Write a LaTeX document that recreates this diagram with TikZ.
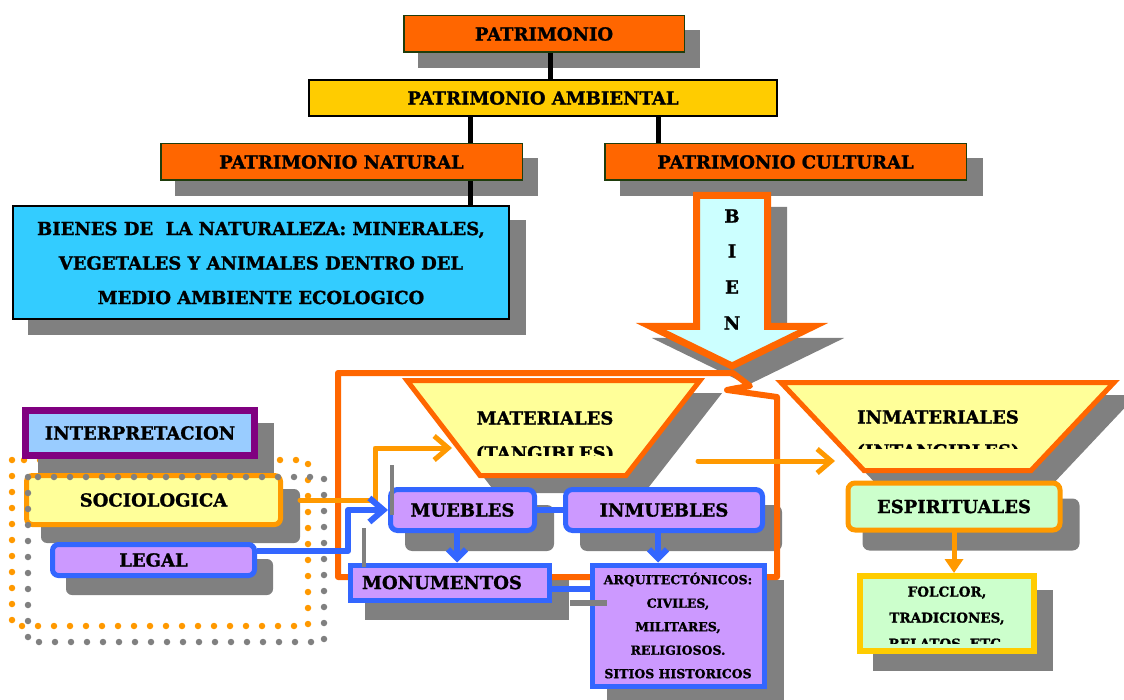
\documentclass[tikz,border=0pt]{standalone}
\usepackage{fontspec}
\setmainfont{DejaVu Serif}[BoldFeatures={FakeBold=1.2}]
\usetikzlibrary{arrows.meta}
\pgfdeclarelayer{bottomlayer}
\pgfdeclarelayer{shadowlayer}
\pgfdeclarelayer{midlayer}
\pgfsetlayers{bottomlayer,shadowlayer,midlayer,main}
\definecolor{cor}{HTML}{FF6600}
\definecolor{cyel}{HTML}{FFCC00}
\definecolor{ccyan}{HTML}{33CCFF}
\definecolor{clcyan}{HTML}{CCFFFF}
\definecolor{clyel}{HTML}{FFFF99}
\definecolor{cor2}{HTML}{FF9900}
\definecolor{cblue}{HTML}{3366FF}
\definecolor{clav}{HTML}{CC99FF}
\definecolor{clblue}{HTML}{99CCFF}
\definecolor{cpurp}{HTML}{800080}
\definecolor{cgreen}{HTML}{CCFFCC}
\definecolor{cdkg}{HTML}{1F3D0C}
\definecolor{shcol}{HTML}{808080}
\newcommand\shd[3][0pt]{\begin{pgfonlayer}{shadowlayer}\fill[shcol,rounded corners=#1]([shift={#3}]#2.south west) rectangle ([shift={#3}]#2.north east);\end{pgfonlayer}}
\tikzset{
  box/.style={draw, inner sep=0pt, align=center, text=black},
  patbox/.style={box, fill=cor, draw=cdkg, line width=1.5pt},
  bluebox/.style={box, fill=clav, draw=cblue, line width=5pt},
  blk/.style={line width=5pt, black},
  oconn/.style={line width=5pt, cor2, line cap=round, line join=round},
  bconn/.style={line width=6pt, cblue, line join=round},
  barb/.style={-{Straight Barb[length=14pt,width=24pt]}},
  dbarb/.style={-{Straight Barb[length=9pt,width=18pt]}},
  trap/.style={fill=clyel, draw=cor, line width=5pt},
  big/.style={font=\bfseries\fontsize{18}{22}\selectfont},
  small/.style={font=\bfseries\fontsize{12.5}{23.5}\selectfont},
  smallb/.style={font=\bfseries\fontsize{13.5}{26}\selectfont},
  dots/.style={line width=6.5pt, dash pattern=on 0pt off 16pt, line cap=round},
}
\begin{document}
\begin{tikzpicture}[x=1pt,y=-1pt,big]
\useasboundingbox (0,0) rectangle (1124,700);
\coordinate (x550) at (550,0);
\coordinate (x470) at (470,0);
\coordinate (x658) at (658,0);

% top hierarchy
\node[patbox, minimum width=280.5pt, minimum height=36.5pt] (pat) at (544,34) {PATRIMONIO};
\shd{pat}{(15,15)}
\node[box, fill=cyel, draw=black, line width=2pt, minimum width=468pt, minimum height=36pt] (amb) at (543,98) {PATRIMONIO AMBIENTAL};
\node[patbox, minimum width=361.5pt, minimum height=36.5pt] (nat) at (341.5,162) {PATRIMONIO NATURAL};
\shd{nat}{(15,15)}
\node[patbox, minimum width=361.5pt, minimum height=36.5pt] (cul) at (785.5,162) {PATRIMONIO CULTURAL};
\shd{cul}{(16,15)}
\node[box, fill=ccyan, draw=black, line width=2pt, minimum width=496pt, minimum height=113pt, font=\bfseries\fontsize{18}{34.5}\selectfont] (bienes) at (261,263)
  {BIENES DE\ \ LA NATURALEZA: MINERALES,\\VEGETALES Y ANIMALES DENTRO DEL\\MEDIO AMBIENTE ECOLOGICO};
\shd{bienes}{(16,15)}
\draw[blk] (pat.south -| x550) -- (amb.north -| x550);
\draw[blk] (amb.south -| x470) -- (nat.north -| x470);
\draw[blk] (amb.south -| x658) -- (cul.north -| x658);
\draw[blk] (nat.south -| x470) -- (bienes.north -| x470);

% BIEN arrow
\begin{pgfonlayer}{shadowlayer}
\begin{scope}[shift={(16,15)}]
\filldraw[shcol, line width=7pt, line join=miter] (696.5,195.5) -- (767.5,195.5) -- (767.5,326.5) -- (813,326.5) -- (732,366) -- (651,326.5) -- (696.5,326.5) -- cycle;
\end{scope}
\end{pgfonlayer}
\filldraw[fill=clcyan, draw=cor, line width=7pt, line join=miter] (696.5,195.5) -- (767.5,195.5) -- (767.5,326.5) -- (813,326.5) -- (732,366) -- (651,326.5) -- (696.5,326.5) -- cycle;
\node[text=black] (lb) at (732,216) {B};
\node[text=black] (li) at (732,251) {I};
\node[text=black] (le) at (732,287) {E};
\node[text=black] (ln) at (732,323) {N};

% orange frame
\begin{pgfonlayer}{midlayer}
\draw[cor, line width=6pt, line join=round] (338,577) -- (338,373) -- (733,373) -- (750,386) -- (737,388) -- (727,390) -- (777,397) -- (777,577) -- cycle;
\end{pgfonlayer}

% trapezoids
\begin{pgfonlayer}{shadowlayer}
\begin{scope}[shift={(17,15)}]
\filldraw[shcol, line width=5pt] (407,380.5) -- (700,380.5) -- (626,475.5) -- (480,475.5) -- cycle;
\filldraw[shcol, line width=5pt] (781,382.5) -- (1114,382.5) -- (1031,470.5) -- (864,470.5) -- cycle;
\end{scope}
\end{pgfonlayer}
\filldraw[trap] (407,380.5) -- (700,380.5) -- (626,475.5) -- (480,475.5) -- cycle;
\filldraw[trap] (781,382.5) -- (1114,382.5) -- (1031,470.5) -- (864,470.5) -- cycle;
\node[text=black] (mat) at (545,418) {MATERIALES};
\begin{scope}
\clip (420,430) rectangle (690,455);
\node[text=black] (matb) at (545,454) {(TANGIBLES)};
\end{scope}
\node[text=black] (inm) at (938,417) {INMATERIALES};
\begin{scope}
\clip (800,430) rectangle (1080,448.5);
\node[text=black] (inmb2) at (938,452) {(INTANGIBLES)};
\end{scope}
\coordinate (matin) at (452,448);
\coordinate (inmfrom) at (698,461);
\coordinate (inmto) at (835,461);

% left group
\begin{pgfonlayer}{bottomlayer}
\draw[cor2, dots] (12,460) rectangle (308,626);
\end{pgfonlayer}
\node[box, fill=clblue, draw=cpurp, line width=7pt, minimum width=229pt, minimum height=45pt] (interp) at (140,433) {INTERPRETACION};
\shd{interp}{(16,16)}
\node[box, fill=clyel, draw=cor2, line width=5pt, rounded corners=6pt, minimum width=254pt, minimum height=49pt] (soc) at (153.5,500) {SOCIOLOGICA};
\shd[6pt]{soc}{(17,16)}
\node[bluebox, rounded corners=6pt, minimum width=202pt, minimum height=31pt] (legal) at (153.5,560) {LEGAL};
\shd[6pt]{legal}{(16,17)}

% material boxes
\node[bluebox, rounded corners=7pt, minimum width=144pt, minimum height=41pt] (mueb) at (462.5,510) {MUEBLES};
\shd[7pt]{mueb}{(17,18)}
\node[bluebox, rounded corners=7pt, minimum width=197pt, minimum height=41pt] (inmbl) at (664,510) {INMUEBLES};
\shd[7pt]{inmbl}{(17,18)}
\node[bluebox, minimum width=199pt, minimum height=35pt] (monum) at (449.5,582.5) {MONUMENTOS\hspace*{15pt}};
\shd{monum}{(17,17)}
\node[bluebox, small, minimum width=172pt, minimum height=121pt] (arqui) at (678,625.5)
  {ARQUITECTÓNICOS:\\CIVILES,\\MILITARES,\\RELIGIOSOS.\\SITIOS HISTORICOS};
\shd{arqui}{(17,17)}

% inmaterial boxes
\node[box, fill=cgreen, draw=cor2, line width=5pt, rounded corners=7pt, minimum width=212pt, minimum height=47pt] (espi) at (954,506.5) {ESPIRITUALES};
\shd[7pt]{espi}{(17,18)}
\node[box, fill=cgreen, draw=cyel, line width=6pt, minimum width=174pt, minimum height=75pt] (folc) at (947,613.5) {};
\shd{folc}{(16,17)}
\begin{scope}
\clip (870,578) rectangle (1030,643);
\node[smallb, align=center, text=black, anchor=north] (folct) at (947,583) {FOLCLOR,\\TRADICIONES,\\RELATOS, ETC.};
\end{scope}

% connectors
\draw[oconn, barb] ([xshift=17pt]soc.east) -- ++(75,0) |- (matin);
\draw[bconn, barb] ([yshift=9pt]legal.east) -- ++(91,0) |- (mueb.west);
\draw[bconn] (mueb.east) -- (inmbl.west);
\coordinate (mA) at ([xshift=-5.5pt]mueb.south);
\coordinate (iA) at ([xshift=-6pt]inmbl.south);
\draw[bconn, dbarb] (mA) -- (mA |- monum.north);
\draw[bconn, dbarb] (iA) -- (iA |- arqui.north);
\coordinate (mB) at ([yshift=-6pt]monum.east);
\draw[bconn] (mB) -- (mB -| arqui.west);
\draw[oconn, barb] (inmfrom) -- (inmto);
\draw[oconn, -{Triangle[length=14pt,width=18pt]}] (espi.south) -- (espi.south |- folc.north);

% stray gray bars
\draw[shcol, line width=4pt] (392,465) -- (392,515);
\draw[shcol, line width=4pt] (364,528) -- (364,567);
\draw[shcol, line width=6pt] (570,603) -- (607,603);

% gray dotted frame
\draw[shcol, dots] (28,477) rectangle (324,642);
\end{tikzpicture}
\end{document}
